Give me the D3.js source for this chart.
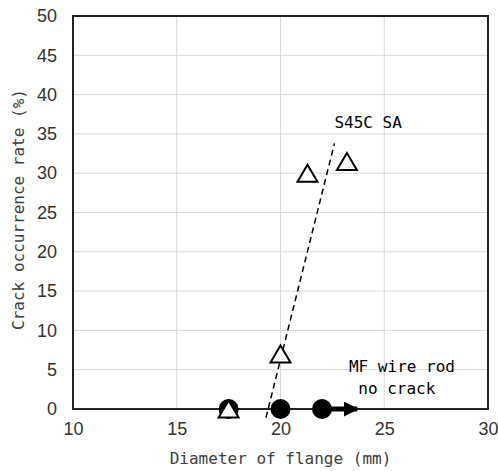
<!DOCTYPE html>
<html>
<head>
<meta charset="utf-8">
<script src="https://cdn.jsdelivr.net/npm/d3@7"></script>
<style>
  body { margin: 0; background: #fff; }
  .tick text { font-family: "Liberation Sans Narrow", "Liberation Sans", sans-serif; font-size: 18px; fill: #333; }
  .mono { font-family: "DejaVu Sans Mono", monospace; font-size: 16px; }
</style>
</head>
<body>
<div id="chart"></div>
<script>
// data
const xTicks = [10, 15, 20, 25, 30];
const yTicks = [0, 5, 10, 15, 20, 25, 30, 35, 40, 45, 50];

// S45C SA (open triangles): diameter (mm), crack rate (%)
const saDiameter = [17.5, 20, 21.3, 23.2];
const saRate = [0, 7, 30, 31.5];

// MF wire rod (filled circles), no crack
const mfDiameter = [17.5, 20, 22];
const mfRate = [0, 0, 0];

// dashed trend line for S45C SA
const trendDiameter = [19.3, 22.6];
const trendRate = [-1.1, 33.8];

// arrow "no crack" continues from 22 to ~23.8
const arrowDiameter = [22, 23.8];

const width = 498, height = 471;
const marginTop = 16, marginRight = 10, marginBottom = 62, marginLeft = 73;

const svg = d3.select("#chart").append("svg")
  .attr("width", width)
  .attr("height", height);

const x = d3.scaleLinear().domain([10, 30]).range([marginLeft, width - marginRight]);
const y = d3.scaleLinear().domain([0, 50]).range([height - marginBottom, marginTop]);

// grid
svg.append("g")
  .attr("stroke", "#d9d9d9")
  .attr("stroke-width", 1)
  .selectAll()
  .data(xTicks.slice(1, -1))
  .join("line")
    .attr("x1", d => x(d)).attr("x2", d => x(d))
    .attr("y1", y(0)).attr("y2", y(50));

svg.append("g")
  .attr("stroke", "#d9d9d9")
  .attr("stroke-width", 1)
  .selectAll()
  .data(yTicks.slice(1, -1))
  .join("line")
    .attr("x1", x(10)).attr("x2", x(30))
    .attr("y1", d => y(d)).attr("y2", d => y(d));

// axes (labels only)
svg.append("g")
  .attr("transform", `translate(${marginLeft - 4},0)`)
  .call(d3.axisLeft(y).tickValues(yTicks).tickSize(0).tickPadding(12))
  .call(g => g.select(".domain").remove());

svg.append("g")
  .attr("transform", `translate(0,${y(0)})`)
  .call(d3.axisBottom(x).tickValues(xTicks).tickSize(0).tickPadding(13))
  .call(g => g.select(".domain").remove());

// plot frame
svg.append("rect")
  .attr("x", x(10)).attr("y", y(50))
  .attr("width", x(30) - x(10)).attr("height", y(0) - y(50))
  .attr("fill", "none")
  .attr("stroke", "#222")
  .attr("stroke-width", 2);

// axis titles
svg.append("text")
  .attr("class", "mono")
  .attr("fill", "#404040")
  .attr("text-anchor", "middle")
  .attr("x", (x(10) + x(30)) / 2)
  .attr("y", height - 7)
  .text("Diameter of flange (mm)");

svg.append("text")
  .attr("class", "mono")
  .attr("fill", "#404040")
  .attr("text-anchor", "middle")
  .attr("transform", `translate(24,${(y(0) + y(50)) / 2 - 3}) rotate(-90)`)
  .text("Crack occurrence rate (%)");

// trend line
svg.append("path")
  .datum(d3.zip(trendDiameter, trendRate))
  .attr("fill", "none")
  .attr("stroke", "#000")
  .attr("stroke-width", 1.5)
  .attr("stroke-dasharray", "6,4")
  .attr("d", d3.line().x(d => x(d[0])).y(d => y(d[1])));

// arrow
svg.append("defs").append("marker")
  .attr("id", "head")
  .attr("viewBox", "0 0 10 10")
  .attr("refX", 9).attr("refY", 5)
  .attr("markerWidth", 3).attr("markerHeight", 3)
  .attr("orient", "auto")
  .append("path")
    .attr("d", "M0,0L10,5L0,10Z")
    .attr("fill", "#000");

svg.append("line")
  .attr("x1", x(arrowDiameter[0])).attr("x2", x(arrowDiameter[1]) - 2)
  .attr("y1", y(0)).attr("y2", y(0))
  .attr("stroke", "#000")
  .attr("stroke-width", 5)
  .attr("marker-end", "url(#head)");

// circles
svg.append("g")
  .selectAll()
  .data(d3.zip(mfDiameter, mfRate))
  .join("circle")
    .attr("cx", d => x(d[0]))
    .attr("cy", d => y(d[1]))
    .attr("r", 10)
    .attr("fill", "#000");

// triangles
const tw = 20, th = 17;
svg.append("g")
  .selectAll()
  .data(d3.zip(saDiameter, saRate))
  .join("path")
    .attr("d", d => {
      const cx = x(d[0]), cy = y(d[1]);
      return `M${cx},${cy - th / 2}L${cx + tw / 2},${cy + th / 2}L${cx - tw / 2},${cy + th / 2}Z`;
    })
    .attr("fill", "#fff")
    .attr("stroke", "#000")
    .attr("stroke-width", 2)
    .attr("stroke-linejoin", "miter");

// annotations
svg.append("text").attr("class", "mono")
  .attr("x", x(22.6)).attr("y", y(35.8))
  .text("S45C SA");
svg.append("text").attr("class", "mono")
  .attr("x", x(23.3)).attr("y", y(4.7))
  .text("MF wire rod");
svg.append("text").attr("class", "mono")
  .attr("x", x(23.75)).attr("y", y(1.9))
  .text("no crack");
</script>
</body>
</html>
